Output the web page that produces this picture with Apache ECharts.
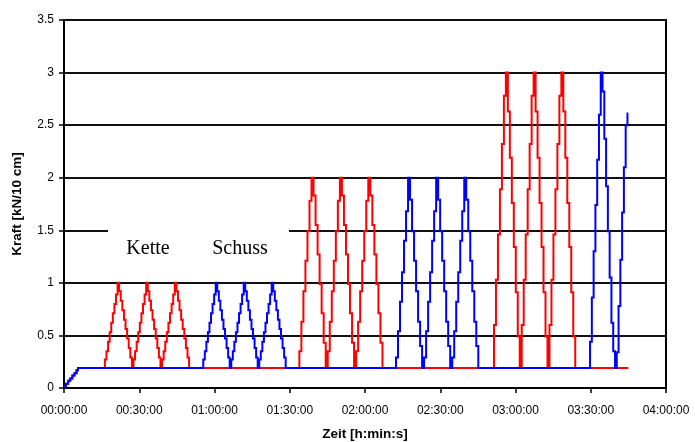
<!DOCTYPE html>
<html>
<head>
<meta charset="utf-8">
<script src="https://cdn.jsdelivr.net/npm/echarts@6/dist/echarts.min.js"></script>
<style>
html, body { margin: 0; padding: 0; background: #fff; }
#chart { width: 695px; height: 442px; }
</style>
</head>
<body>
<div id="chart"></div>
<script>
// Zeitachse in Sekunden ab Versuchsbeginn
const timeTickLabels = ['00:00:00', '00:30:00', '01:00:00', '01:30:00', '02:00:00',
                        '02:30:00', '03:00:00', '03:30:00', '04:00:00'];
const forceTicks = [0, 0.5, 1, 1.5, 2, 2.5, 3, 3.5];

// Anlauframpe auf die Grundlast (beide Richtungen)
const rampTimes  = [0, 50, 100, 150, 200, 250, 300, 335];
const rampValues = [0.02, 0.04, 0.07, 0.09, 0.12, 0.14, 0.17, 0.19];
const baseLevel = 0.19;
const endTime = 13498;

// Laststufen eines Zyklus [kN/10 cm]
const stufen1 = [0.27, 0.35, 0.44, 0.53, 0.62, 0.71, 0.80, 0.89, 1.0,
                 0.92, 0.83, 0.74, 0.65, 0.56, 0.47, 0.38, 0.29, 0.19];
const stufen2Kette  = [0.35, 0.63, 0.92, 1.21, 1.49, 1.78, 2.0,
                       1.83, 1.55, 1.27, 0.99, 0.71, 0.43, 0.19];
const stufen2Schuss = [0.29, 0.54, 0.82, 1.10, 1.40, 1.68, 2.0,
                       1.79, 1.49, 1.21, 0.92, 0.63, 0.40, 0.19];
const stufen3Kette  = [0.6, 1.03, 1.46, 1.89, 2.32, 2.78, 3.0,
                       2.63, 2.19, 1.76, 1.34, 0.91, 0.49, 0.19];
const stufen3Schuss = [0.44, 0.86, 1.30, 1.74, 2.17, 2.60, 3.0,
                       2.82, 2.37, 1.92, 1.49, 1.05, 0.62, 0.35, 0.19];
const stufenSchussRest = [0.34, 0.78, 1.22, 1.67, 2.10, 2.50, 2.61];

// Blockbeginn [s] und Haltedauer je Stufe [s]
const ketteBlockStart = [940, 5581, 10238];
const ketteStufenDauer = [38, 48.5, 47.4];
const ketteZyklen = [
  [stufen1, stufen1, stufen1],
  [stufen2Kette, stufen2Kette, stufen2Kette],
  [stufen3Kette, stufen3Kette, stufen3Kette]
];
const schussBlockStart = [3294, 7894, 12541];
const schussStufenDauer = [37.2, 48, 42.6];
const schussZyklen = [
  [stufen1, stufen1, stufen1],
  [stufen2Schuss, stufen2Schuss, stufen2Schuss],
  [stufen3Schuss, stufenSchussRest]
];

// Messpunkte: jede Stufe beginnt an ihrem Zeitpunkt
function buildPoints(blockStart, stufenDauer, zyklen) {
  const pts = rampTimes.map((t, i) => [t, rampValues[i]]);
  blockStart.forEach((start, b) => {
    let t = start;
    pts.push([t, baseLevel]);
    zyklen[b].forEach(levels => {
      levels.forEach(v => { t += stufenDauer[b]; pts.push([t, v]); });
    });
  });
  pts.push([endTime, pts[pts.length - 1][1]]);
  return pts;
}

// Stufenverlauf: Wert bis zum nächsten Messpunkt halten, dann senkrecht springen
function holdSteps(pts) {
  const out = [pts[0]];
  for (let i = 1; i < pts.length; i++) {
    out.push([pts[i][0], pts[i - 1][1]]);
    out.push(pts[i]);
  }
  return out;
}

const ketteData = holdSteps(buildPoints(ketteBlockStart, ketteStufenDauer, ketteZyklen));
const schussData = holdSteps(buildPoints(schussBlockStart, schussStufenDauer, schussZyklen));

const chart = echarts.init(document.getElementById('chart'), null, { renderer: 'canvas' });
const sansFont = '"Liberation Sans", Arial, sans-serif';
const labelFont = { fontFamily: sansFont, fontSize: 12, color: '#000' };
const titleFont = { fontFamily: sansFont, fontSize: 13.5, fontWeight: 'bold', color: '#000' };

chart.setOption({
  animation: false,
  backgroundColor: '#fff',
  grid: { left: 64, right: 29, top: 20, bottom: 54, outerBoundsMode: 'none', containLabel: false,
          show: true, borderColor: '#000', borderWidth: 2, backgroundColor: 'transparent' },
  xAxis: {
    type: 'value', min: 0, max: 14400, interval: 1800,
    name: 'Zeit [h:min:s]', nameLocation: 'middle', nameGap: 39,
    nameTextStyle: titleFont,
    axisLine: { lineStyle: { color: '#000', width: 2 } },
    axisTick: { show: true, length: 5, lineStyle: { color: '#000', width: 1.5 } },
    axisLabel: Object.assign({ margin: 17, formatter: v => timeTickLabels[Math.round(v / 1800)] }, labelFont),
    splitLine: { show: false }
  },
  yAxis: {
    type: 'value', min: 0, max: 3.5, interval: 0.5,
    name: 'Kraft [kN/10 cm]', nameLocation: 'middle', nameGap: 40, nameRotate: 90,
    nameTextStyle: titleFont,
    axisLine: { show: true, lineStyle: { color: '#000', width: 2 } },
    axisTick: { show: true, length: 5, lineStyle: { color: '#000', width: 1.5 } },
    axisLabel: Object.assign({ margin: 10, formatter: v => String(forceTicks[Math.round(v / 0.5)]) }, labelFont),
    splitLine: { show: true, lineStyle: { color: '#111', width: 2 } }
  },
  graphic: [
    { type: 'rect', z: 1, shape: { x: 108, y: 224, width: 181, height: 44 }, style: { fill: '#fff' } },
    { type: 'text', z: 5, x: 148, y: 249, style: { text: 'Kette', font: '20px "Liberation Serif", "Times New Roman", serif', fill: '#000', align: 'center', verticalAlign: 'middle' } },
    { type: 'text', z: 5, x: 240, y: 249, style: { text: 'Schuss', font: '20px "Liberation Serif", "Times New Roman", serif', fill: '#000', align: 'center', verticalAlign: 'middle' } }
  ],
  series: [
    { name: 'Kette', type: 'lines', coordinateSystem: 'cartesian2d', polyline: true, z: 2,
      data: [{ coords: ketteData }],
      lineStyle: { color: '#ff0000', width: 2, opacity: 1, join: 'miter' } },
    { name: 'Schuss', type: 'lines', coordinateSystem: 'cartesian2d', polyline: true, z: 3,
      data: [{ coords: schussData }],
      lineStyle: { color: '#0000ff', width: 2, opacity: 1, join: 'miter' } }
  ]
});
</script>
</body>
</html>
